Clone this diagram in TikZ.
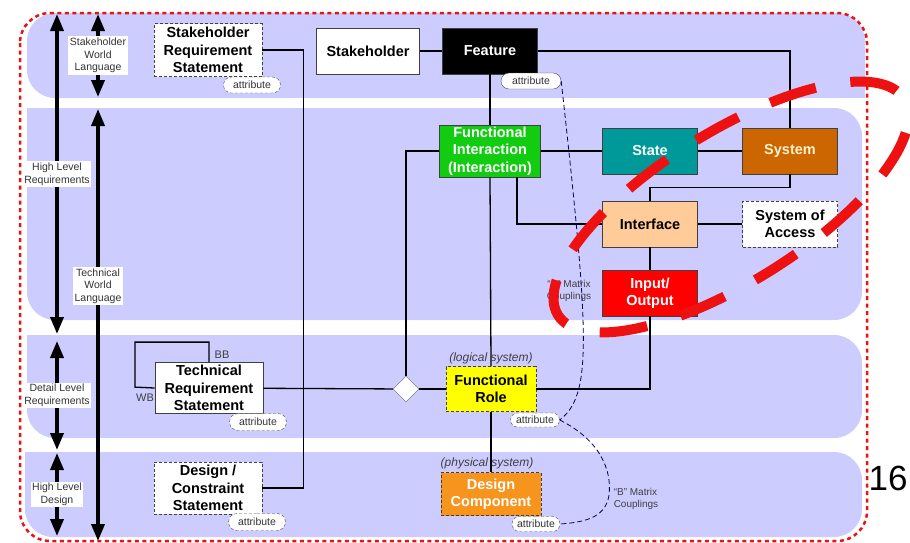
\documentclass[tikz,border=0pt]{standalone}
\usepackage{fontspec}
\setmainfont{Liberation Sans}
\usetikzlibrary{arrows.meta,shapes.geometric,shapes.misc}
\definecolor{lane}{HTML}{CCCCFF}
\definecolor{fgreen}{HTML}{11CC11}
\definecolor{fteal}{HTML}{009999}
\definecolor{fbrown}{HTML}{CC6600}
\definecolor{cream}{HTML}{FFF2CC}
\definecolor{fpeach}{HTML}{FFCC99}
\definecolor{fyellow}{HTML}{FFFF00}
\definecolor{forange}{HTML}{F7941D}
\definecolor{redmark}{HTML}{EE1111}
\begin{document}
\begin{tikzpicture}[x=1pt,y=-1pt,>={Triangle[width=13pt,length=17pt]},
  box/.style={draw=black!75,line width=0.8pt,minimum width=95pt,minimum height=46pt,
    inner sep=0pt,align=center,font=\bfseries\fontsize{14.5}{17.5}\selectfont},
  dbox/.style={box,dash pattern=on 3pt off 2pt},
  attr/.style={rounded rectangle,draw=black!70,dash pattern=on 3pt off 2pt,fill=white,
    minimum height=16pt,minimum width=61pt,inner xsep=2pt,inner ysep=0pt,
    text=black!80,font=\fontsize{10.5}{12}\selectfont},
  lbl/.style={fill=white,inner sep=1.5pt,align=center,text=black!80,
    font=\fontsize{10.5}{12.7}\selectfont},
  note/.style={text=black!75,align=center,font=\fontsize{10}{12}\selectfont},
  wire/.style={line width=1.3pt},
  couple/.style={draw=black!60!blue,line width=0.8pt,dash pattern=on 5pt off 3pt},
  level/.style={<->,line width=3.6pt}]
\useasboundingbox (0,0) rectangle (910,542);

% lanes
\fill[lane,rounded corners=28pt] (27,13) rectangle (865,98);
\fill[lane] (800,60) rectangle (865,98);
\fill[lane,rounded corners=28pt] (27,108) rectangle (862,320);
\fill[lane] (27,108) rectangle (70,150);
\fill[lane,rounded corners=28pt] (27,335) rectangle (862,438);
\fill[lane] (27,335) rectangle (70,380);
\fill[lane,rounded corners=28pt] (25,452) rectangle (862,537);
\fill[lane] (25,452) rectangle (70,490);
\draw[draw=redmark,line width=2.5pt,dash pattern=on 4pt off 3.5pt,rounded corners=30pt] (20,13) rectangle (867,541);

% level arrows
\draw[level] (57,14) -- node[lbl] (hlr) {High Level\\Requirements} (57,334);
\draw[level] (57,341) -- node[lbl] (dlr) {Detail Level\\Requirements} (57,450);
\draw[level] (57,453) -- node[lbl] (hld) {High Level\\Design} (57,536);
\draw[level] (98,14) -- node[lbl] (swl) {Stakeholder\\World\\Language} (98,97);
\draw[level] (98,109) -- node[lbl,pos=0.41] (twl) {Technical\\World\\Language} (98,541);

% boxes
\node[dbox,fill=white,minimum width=108pt,minimum height=53pt] (srs) at (208,50) {Stakeholder\\Requirement\\Statement};
\node[box,fill=white,minimum width=103pt] (sh) at (368,51) {Stakeholder};
\node[box,fill=black,text=white] (feat) at (490,51) {Feature};
\node[box,fill=fgreen,text=white,minimum width=101pt,minimum height=52pt] (fi) at (490,151) {Functional\\Interaction\\(Interaction)};
\node[box,fill=fteal,text=white] (state) at (650,151) {State};
\node[box,fill=fbrown,text=cream] (sys) at (790,151) {System};
\node[box,fill=fpeach] (intf) at (650,224) {Interface};
\node[dbox,fill=white] (soa) at (790,224) {System of\\Access};
\node[box,fill=red,text=white] (io) at (650,293) {Input/\\Output};
\node[box,fill=white,minimum width=108pt,minimum height=51pt] (trs) at (209,388) {Technical\\Requirement\\Statement};
\node[dbox,fill=white,minimum width=108pt,minimum height=52pt] (dcs) at (208,488) {Design /\\Constraint\\Statement};
\node[diamond,draw=black!60,fill=white,minimum size=26pt,inner sep=0pt] (dia) at (406,389) {};
\node[dbox,fill=fyellow,minimum width=90pt,minimum height=45pt] (fr) at (491,389) {Functional\\Role};
\node[dbox,fill=forange,text=white,minimum width=100pt,minimum height=43pt] (dc) at (491,494) {Design\\Component};

% links
\draw[wire] (srs.east) -- ++(41,0) |- (dcs.east);
\draw[wire] (sh) -- (feat);
\draw[wire] (feat.east) -| (sys.north);
\draw[wire] (feat.south) -- (fi.north);
\draw[wire] (fi.south) -- (fr.north);
\draw[wire] (fr.south) -- (dc.north);
\draw[wire] (fi) -- (state);
\draw[wire] (state) -- (sys);
\draw[wire] (fi.west) -| (dia.north);
\draw[wire] (fi.south east) ++(-24,0) |- (intf.west);
\draw[wire] (sys.south) -- ++(0,13) -| (intf.north);
\draw[wire] (intf) -- (soa);
\draw[wire] (intf) -- (io);
\draw[wire] (io.south) |- (fr.east);
\draw[wire] (trs) -- (dia);
\draw[wire] (dia) -- (fr);
\draw[wire] (trs.north) -- ++(0,-20) -| ++(-74,45) -- (trs.west);

% attributes
\node[attr] (srsa) at (252,85) {attribute};
\node[attr,solid,minimum width=64pt] (feata) at (531,81) {attribute};
\node[attr,minimum height=17pt] (trsa) at (258,422) {attribute};
\node[attr,minimum height=17pt] (dcsa) at (257,522) {attribute};
\node[attr,minimum width=53pt,minimum height=14pt] (fra) at (535,420) {attribute};
\node[attr,minimum width=52pt,minimum height=15pt] (dca) at (536,524) {attribute};
\draw[couple] (feata.east) .. controls (590,340) and (592,395) .. (fra.east);
\draw[couple] (fra.east) .. controls (600,440) and (612,470) .. (609,495) .. controls (606,515) and (590,522) .. (dca.east);

% texts
\node[text=black!75,font=\itshape\fontsize{12}{14}\selectfont] (lgs) at (491,358) {(logical system)};
\node[text=black!75,font=\itshape\fontsize{12}{14}\selectfont] (phs) at (487,463) {(physical system)};
\node[note,font=\fontsize{11}{13}\selectfont] (bb) at (222,355) {BB};
\node[note,font=\fontsize{11}{13}\selectfont] (wb) at (145,398) {WB};
\node[note] (amc) at (569,291) {``A'' Matrix\\Couplings};
\node[note,align=left] (bmc) at (636,499) {``B'' Matrix\\Couplings};
\node[font=\fontsize{35}{40}\selectfont] (pg) at (888,478) {16};

% red mark
\draw[draw=redmark,line width=10pt,dash pattern=on 48pt off 35pt,dash phase=48pt,rotate around={32:(731,207)}] (731,207) ellipse [x radius=204,y radius=75];
\end{tikzpicture}
\end{document}
